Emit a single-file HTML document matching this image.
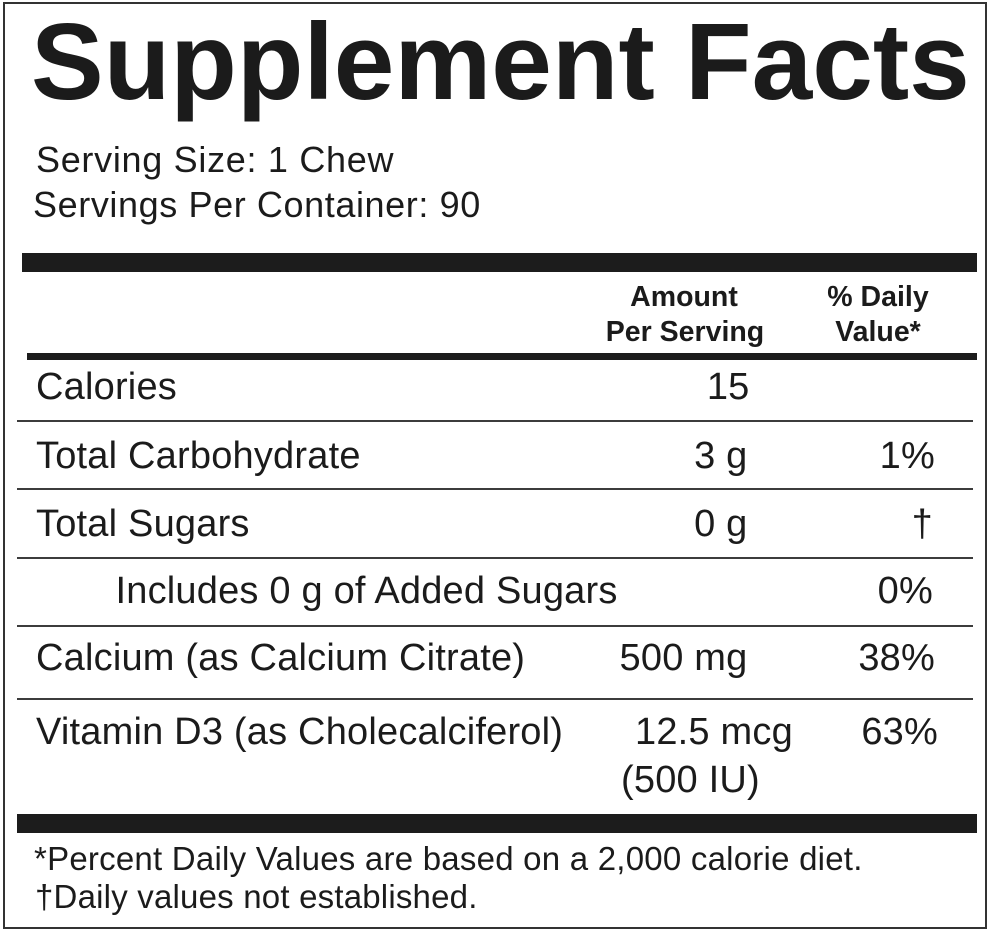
<!DOCTYPE html>
<html>
<head>
<meta charset="utf-8">
<style>
  html, body { margin: 0; padding: 0; background: #fff; }
  body { width: 991px; height: 933px; position: relative; overflow: hidden;
         font-family: "Liberation Sans", Arial, sans-serif; color: #1b1b1b; }
  .box { position: absolute; left: 3px; top: 2px; width: 980px; height: 923px; border: 2px solid #333; }
  .t { position: absolute; white-space: nowrap; line-height: 1; }
  .r38 { font-size: 38px; letter-spacing: 0.2px; }
  .bar { position: absolute; background: #1c1c1c; }
  .thin { position: absolute; height: 2px; background: #3c3c3c; left: 17px; width: 956px; }
  .rt { text-align: right; }
  .ct { text-align: center; }
  .hd { font-size: 28.5px; font-weight: bold; }
</style>
</head>
<body>
<div class="box"></div>

<div class="t" style="left:31px; top:7.7px; font-size:109px; font-weight:bold;">Supplement Facts</div>

<div class="t" style="left:36px; top:141.5px; font-size:36px; letter-spacing:0.7px;">Serving Size: 1 Chew</div>
<div class="t" style="left:33px; top:186.5px; font-size:36px; letter-spacing:0.6px;">Servings Per Container: 90</div>

<div class="bar" style="left:22px; top:253px; width:955px; height:19px;"></div>

<div class="t ct hd" style="left:584px; width:200px; top:283px;">Amount</div>
<div class="t ct hd" style="left:585px; width:200px; top:318px;">Per Serving</div>
<div class="t ct hd" style="left:778px; width:200px; top:283px;">% Daily</div>
<div class="t ct hd" style="left:778px; width:200px; top:318px;">Value*</div>

<div class="bar" style="left:27px; top:353px; width:950px; height:7px;"></div>

<!-- Calories -->
<div class="t r38" style="left:36px; top:367.8px;">Calories</div>
<div class="t r38 rt" style="left:549.5px; width:200px; top:367.8px;">15</div>
<div class="thin" style="top:420px;"></div>

<!-- Total Carbohydrate -->
<div class="t r38" style="left:36px; top:436.8px;">Total Carbohydrate</div>
<div class="t r38 rt" style="left:547.5px; width:200px; top:436.8px;">3 g</div>
<div class="t r38 rt" style="left:735px; width:200px; top:436.8px;">1%</div>
<div class="thin" style="top:488px;"></div>

<!-- Total Sugars -->
<div class="t r38" style="left:36px; top:504.8px;">Total Sugars</div>
<div class="t r38 rt" style="left:547.5px; width:200px; top:504.8px;">0 g</div>
<div class="t r38 rt" style="left:733px; width:200px; top:504.8px;">†</div>
<div class="thin" style="top:557px;"></div>

<!-- Includes -->
<div class="t r38" style="left:115.5px; top:571.8px;">Includes 0 g of Added Sugars</div>
<div class="t r38 rt" style="left:733px; width:200px; top:571.8px;">0%</div>
<div class="thin" style="top:625px;"></div>

<!-- Calcium -->
<div class="t r38" style="left:36px; top:638.8px;">Calcium (as Calcium Citrate)</div>
<div class="t r38 rt" style="left:547.5px; width:200px; top:638.8px;">500 mg</div>
<div class="t r38 rt" style="left:735px; width:200px; top:638.8px;">38%</div>
<div class="thin" style="top:698px;"></div>

<!-- Vitamin D3 -->
<div class="t r38" style="left:36px; top:712.8px;">Vitamin D3 (as Cholecalciferol)</div>
<div class="t r38" style="left:635px; top:712.8px;">12.5 mcg</div>
<div class="t r38 rt" style="left:738px; width:200px; top:712.8px;">63%</div>
<div class="t r38" style="left:621px; top:760.8px;">(500 IU)</div>

<div class="bar" style="left:17px; top:814px; width:960px; height:19px;"></div>

<div class="t" style="left:34px; top:842px; font-size:33px; letter-spacing:0.23px;">*Percent Daily Values are based on a 2,000 calorie diet.</div>
<div class="t" style="left:35px; top:880px; font-size:33px; letter-spacing:0.2px;">†Daily values not established.</div>
</body>
</html>
